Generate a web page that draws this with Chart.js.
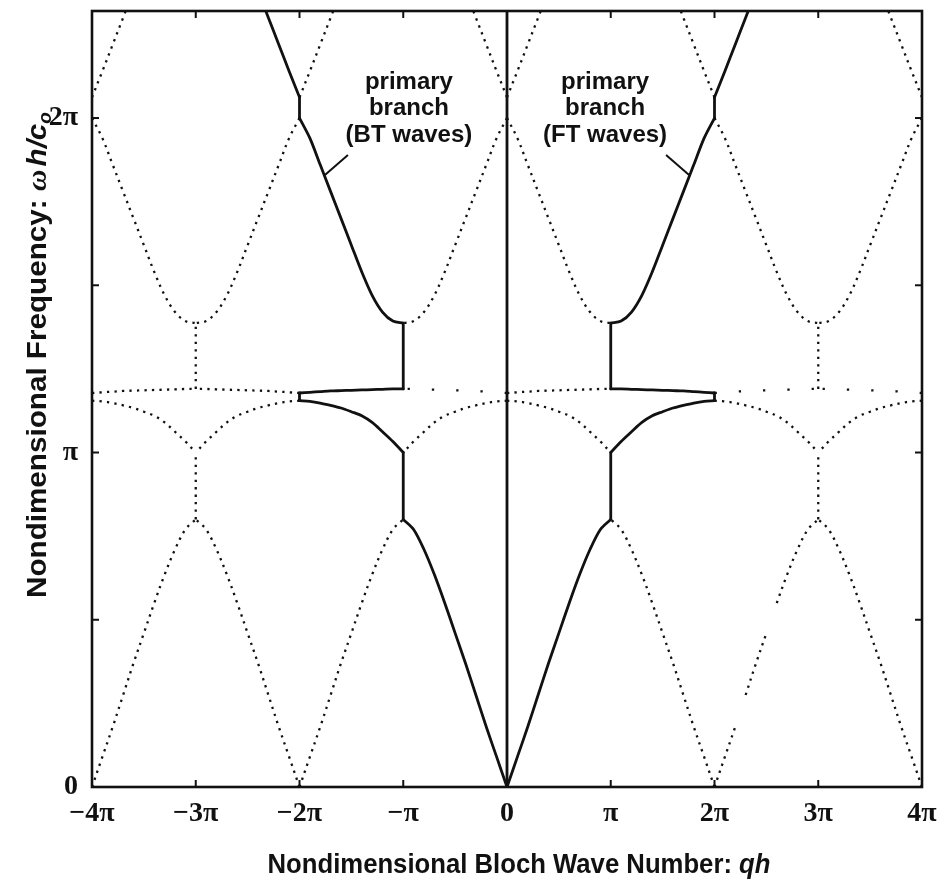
<!DOCTYPE html>
<html>
<head>
<meta charset="utf-8">
<script src="https://cdn.jsdelivr.net/npm/chart.js@4.4.0/dist/chart.umd.min.js"></script>
<style>
  body { margin: 0; background: #fff; }
  canvas { display: block; }
</style>
</head>
<body>
<canvas id="bands" width="948" height="883"></canvas>
<script>
const PI = Math.PI;

// distance from the nearest zone centre, in units of pi
const zoneU = [0, 0.1, 0.2, 0.3, 0.4, 0.5, 0.6, 0.7, 0.8, 0.9, 1.0];

// band frequencies (units of pi) at zoneU
const band1 = [0, 0.09, 0.18, 0.275, 0.37, 0.46, 0.55, 0.635, 0.71, 0.77, 0.80];
const band2 = [1.155, 1.153, 1.148, 1.141, 1.133, 1.122, 1.11, 1.09, 1.062, 1.033, 1.0];
const band3 = [1.178, 1.18, 1.182, 1.184, 1.185, 1.186, 1.187, 1.188, 1.189, 1.19, 1.19];
const band4 = [2.0, 1.94, 1.86, 1.78, 1.70, 1.62, 1.54, 1.47, 1.42, 1.393, 1.387];
// top band leaves the frame quickly, only a few samples
const band5U = [0, 0.1, 0.2, 0.3, 0.4];
const band5 = [2.062, 2.14, 2.22, 2.30, 2.38];

const zoneCentres = [-4, -2, 0, 2, 4];
const xTicks = [-4, -3, -2, -1, 0, 1, 2, 3, 4];
const xTickLabels = ['\u22124\u03c0', '\u22123\u03c0', '\u22122\u03c0', '\u2212\u03c0', '0', '\u03c0', '2\u03c0', '3\u03c0', '4\u03c0'];
const yTicks = [0, 0.5, 1, 1.5, 2];
const yTickLabels = ['0', '', '\u03c0', '', '2\u03c0'];
const yTop = 2.32;

const bands = [
  { u: zoneU, w: band1 },
  { u: zoneU, w: band2 },
  { u: zoneU, w: band3 },
  { u: zoneU, w: band4 },
  { u: band5U, w: band5 }
];

function half(b, centre, dir) {
  return b.u.map((u, i) => ({ x: (centre + dir * u) * PI, y: b.w[i] * PI }));
}
function vertical(xk, y0, y1) {
  return [{ x: xk * PI, y: y0 * PI }, { x: xk * PI, y: y1 * PI }];
}
const last = a => a[a.length - 1];

const INK = '#111';
const datasets = [];

function solid(data, tension) {
  datasets.push({
    data, showLine: true, pointRadius: 0, borderColor: INK, borderWidth: 2.8,
    tension: tension, borderCapStyle: 'round', borderJoinStyle: 'round'
  });
}
function dotted(data, dash, hide) {
  datasets.push({
    data, showLine: true, pointRadius: 0, borderColor: INK, borderWidth: 2.3,
    tension: 0.35, borderDash: dash || [2.3, 5.2],
    segment: hide ? { borderColor: c => hide.includes(c.p0DataIndex) ? 'rgba(0,0,0,0)' : undefined } : undefined
  });
}

// primary branch, forward (s = +1) and backward (s = -1)
[1, -1].forEach(s => {
  solid(half(bands[0], 0, s), 0.3);
  solid(vertical(s, last(band1), last(band2)), 0);
  solid(half(bands[1], 2 * s, -s), 0.3);
  solid(vertical(2 * s, band2[0], band3[0]), 0);
  solid(half(bands[2], 2 * s, -s), 0.3);
  solid(vertical(s, last(band3), last(band4)), 0);
  solid(half(bands[3], 2 * s, -s), 0.3);
  solid(vertical(2 * s, band4[0], band5[0]), 0);
  solid(half(bands[4], 2 * s, s), 0.3);
});
solid(vertical(0, 0, yTop), 0);

// remaining branches, dotted
const sparseFlat = ['0:-1', '2:1', '4:-1'];
zoneCentres.forEach(c => {
  [1, -1].forEach(dir => {
    if ((c === 4 && dir === 1) || (c === -4 && dir === -1)) return;
    bands.forEach((b, bi) => {
      if (bi === 0 && c === 0) return;
      if (bi >= 1 && bi <= 3 && ((c === 2 && dir === -1) || (c === -2 && dir === 1))) return;
      if (bi === 4 && ((c === 2 && dir === 1) || (c === -2 && dir === -1))) return;
      let dash, hide;
      if (bi === 2 && sparseFlat.includes(c + ':' + dir)) dash = [2.3, 22];
      if (bi === 0 && c === 2 && dir === 1) hide = [2, 5];
      dotted(half(b, c, dir), dash, hide);
    });
  });
});
[-3, 3].forEach(xk => {
  dotted(vertical(xk, last(band1), last(band2)));
  dotted(vertical(xk, last(band3), last(band4)));
});

function line(ctx, x0, y0, x1, y1) {
  ctx.beginPath(); ctx.moveTo(x0, y0); ctx.lineTo(x1, y1); ctx.stroke();
}

// draw a run of differently styled pieces, squeezed to a given width
function drawRuns(ctx, runs, cx, base, width) {
  let total = 0;
  runs.forEach(r => { ctx.font = r.font; r.w = ctx.measureText(r.text).width; total += r.w + (r.gap || 0); });
  const k = width / total;
  ctx.save();
  ctx.translate(cx - width / 2, base);
  ctx.scale(k, 1);
  let x = 0;
  runs.forEach(r => {
    ctx.font = r.font;
    ctx.fillText(r.text, x, r.dy || 0);
    x += r.w + (r.gap || 0);
  });
  ctx.restore();
}

const decorations = {
  id: 'decorations',
  afterDraw(chart) {
    const { ctx, chartArea: a, scales: { x, y } } = chart;
    ctx.save();
    ctx.strokeStyle = INK;
    ctx.fillStyle = INK;
    ctx.lineWidth = 2.6;
    ctx.strokeRect(a.left, a.top, a.right - a.left, a.bottom - a.top);

    // inward tick marks on all four sides
    ctx.lineWidth = 2;
    const len = 7;
    xTicks.forEach(k => {
      const px = x.getPixelForValue(k * PI);
      line(ctx, px, a.bottom, px, a.bottom - len);
      line(ctx, px, a.top, px, a.top + len);
    });
    yTicks.forEach(k => {
      const py = y.getPixelForValue(k * PI);
      line(ctx, a.left, py, a.left + len, py);
      line(ctx, a.right, py, a.right - len, py);
    });

    // branch notes with leader lines
    ctx.lineWidth = 2;
    ctx.textAlign = 'center';
    ctx.font = 'bold 24px "Liberation Sans", Arial, sans-serif';
    [[-1, ['primary', 'branch', '(BT waves)']], [1, ['primary', 'branch', '(FT waves)']]].forEach(([s, lines]) => {
      const tx = x.getPixelForValue(s * 1.755 * PI);
      const ty = y.getPixelForValue(1.83 * PI);
      line(ctx, tx, ty, tx - s * 23, ty - 20);
      const cx = tx - s * 84;
      lines.forEach((t, i) => ctx.fillText(t, cx, [89, 115, 142][i]));
    });

    // axis titles
    ctx.textAlign = 'left';
    ctx.textBaseline = 'alphabetic';
    const sans = '"Liberation Sans", Arial, sans-serif';
    drawRuns(ctx, [
      { text: 'Nondimensional Bloch Wave Number: ', font: 'bold 28px ' + sans },
      { text: 'qh', font: 'italic bold 28px ' + sans }
    ], 519, 873, 503);

    ctx.save();
    ctx.translate(46, 355);
    ctx.rotate(-PI / 2);
    drawRuns(ctx, [
      { text: 'Nondimensional Frequency: ', font: 'bold 28px ' + sans },
      { text: '\u03c9', font: 'italic bold 28px "Liberation Serif", serif', gap: 3 },
      { text: 'h/c', font: 'italic bold 28px ' + sans },
      { text: 'o', font: 'italic bold 18px ' + sans, dy: 5 }
    ], 0, 0, 486);
    ctx.restore();
    ctx.restore();
  }
};

new Chart(document.getElementById('bands'), {
  type: 'scatter',
  data: { datasets },
  options: {
    responsive: false,
    animation: false,
    layout: { padding: { top: 11, right: 26, left: 0, bottom: 0 } },
    plugins: { legend: { display: false }, tooltip: { enabled: false } },
    scales: {
      x: {
        type: 'linear', min: -4 * PI, max: 4 * PI,
        grid: { display: false, drawTicks: false }, border: { display: false },
        afterBuildTicks: s => { s.ticks = xTicks.map(k => ({ value: k * PI })); },
        afterFit: s => { s.height = 96; s.paddingLeft = 0; s.paddingRight = 0; },
        ticks: {
          color: INK, padding: 10, maxRotation: 0, autoSkip: false,
          font: { family: '"Liberation Serif", serif', size: 28, weight: 'bold' },
          callback: (v, i) => xTickLabels[i]
        }
      },
      y: {
        type: 'linear', min: 0, max: yTop * PI,
        grid: { display: false, drawTicks: false }, border: { display: false },
        afterBuildTicks: s => { s.ticks = yTicks.map(k => ({ value: k * PI })); },
        afterFit: s => { s.width = 92; s.paddingTop = 0; s.paddingBottom = 0; },
        ticks: {
          color: INK, padding: 14, autoSkip: false,
          font: { family: '"Liberation Serif", serif', size: 28, weight: 'bold' },
          callback: (v, i) => yTickLabels[i]
        }
      }
    }
  },
  plugins: [decorations]
});
</script>
</body>
</html>
